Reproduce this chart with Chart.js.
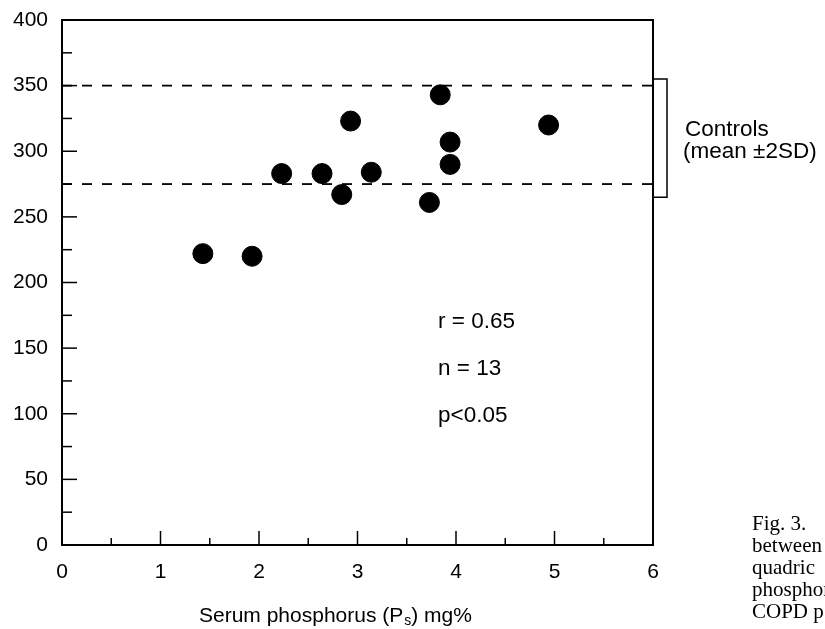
<!DOCTYPE html>
<html>
<head>
<meta charset="utf-8">
<script src="https://cdn.jsdelivr.net/npm/chart.js@4.4.0/dist/chart.umd.min.js"></script>
<style>
  html, body { margin: 0; padding: 0; background: #fff; overflow: hidden; }
  #wrap { position: relative; width: 825px; height: 629px; }
  #caption {
    position: absolute; left: 752px; top: 512px;
    font-family: "Liberation Serif", "Times New Roman", serif;
    font-size: 21px; line-height: 22px; color: #000;
    white-space: pre;
  }
</style>
</head>
<body>
<div id="wrap">
  <canvas id="scatterChart" width="825" height="629"></canvas>
  <div id="caption"></div>
</div>
<script>
// data
const phosphorus = [1.43, 1.93, 2.23, 2.64, 2.84, 2.93, 3.14, 3.73, 3.84, 3.94, 3.94, 4.94];
const muscleValue = [222, 220, 283, 283, 267, 323, 284, 261, 343, 307, 290, 320];

const controlLines = [350, 275];      // dashed lines (mean +/- 2SD)
const controlBracket = [265, 355];    // bracket on the right side
const controlLabel = ['Controls', '(mean \u00b12SD)'];
const statsText = ['r = 0.65', 'n = 13', 'p<0.05'];
const xTitleParts = ['Serum phosphorus (P', 's', ') mg%'];
const captionLines = ['Fig. 3.', 'between', 'quadric', 'phosphor', 'COPD p'];

const xRange = [0, 6];
const yRange = [0, 400];

document.getElementById('caption').textContent = captionLines.join('\n');

const FONT = '"Liberation Sans", Arial, Helvetica, sans-serif';

const points = phosphorus.map((x, i) => ({ x: x, y: muscleValue[i] }));

const lineSets = controlLines.map(v => ({
    type: 'line',
    data: [{ x: xRange[0], y: v }, { x: xRange[1], y: v }],
    borderColor: '#000',
    borderWidth: 1.8,
    borderDash: [10, 10],
    pointRadius: 0,
    fill: false
}));

const decorPlugin = {
    id: 'decor',
    afterDraw(chart) {
        const ctx = chart.ctx;
        const area = chart.chartArea;
        const xs = chart.scales.x;
        const ys = chart.scales.y;
        ctx.save();
        ctx.strokeStyle = '#000';
        ctx.fillStyle = '#000';
        ctx.lineWidth = 2;

        // top and right frame
        ctx.beginPath();
        ctx.moveTo(area.left, area.top);
        ctx.lineTo(area.right, area.top);
        ctx.lineTo(area.right, area.bottom);
        ctx.stroke();

        // inward ticks, y axis
        ctx.lineWidth = 1.5;
        for (let v = yRange[0] + 25; v < yRange[1]; v += 25) {
            const py = ys.getPixelForValue(v);
            const len = (v % 50 === 0) ? 15 : 10;
            ctx.beginPath();
            ctx.moveTo(area.left, py);
            ctx.lineTo(area.left + len, py);
            ctx.stroke();
        }
        // inward ticks, x axis
        for (let v = xRange[0] + 0.5; v < xRange[1]; v += 0.5) {
            const px = xs.getPixelForValue(v);
            const len = (v % 1 === 0) ? 14 : 7;
            ctx.beginPath();
            ctx.moveTo(px, area.bottom);
            ctx.lineTo(px, area.bottom - len);
            ctx.stroke();
        }

        // controls bracket
        const bTop = ys.getPixelForValue(controlBracket[1]);
        const bBot = ys.getPixelForValue(controlBracket[0]);
        ctx.beginPath();
        ctx.moveTo(area.right, bTop);
        ctx.lineTo(area.right + 14, bTop);
        ctx.lineTo(area.right + 14, bBot);
        ctx.lineTo(area.right, bBot);
        ctx.stroke();

        ctx.font = '22.5px ' + FONT;
        ctx.textBaseline = 'alphabetic';
        ctx.textAlign = 'left';
        ctx.fillText(controlLabel[0], area.right + 32, 136);
        ctx.fillText(controlLabel[1], area.right + 30, 158);

        // statistics
        statsText.forEach((t, i) => {
            ctx.fillText(t, 438, 328 + i * 47);
        });

        // x axis title with subscript
        ctx.font = '21px ' + FONT;
        let tx = 199;
        const ty = 622;
        ctx.fillText(xTitleParts[0], tx, ty);
        tx += ctx.measureText(xTitleParts[0]).width;
        ctx.font = '14px ' + FONT;
        ctx.fillText(xTitleParts[1], tx + 1, ty + 3);
        tx += ctx.measureText(xTitleParts[1]).width + 1;
        ctx.font = '21px ' + FONT;
        ctx.fillText(xTitleParts[2], tx, ty);

        ctx.restore();
    }
};

const ctx = document.getElementById('scatterChart').getContext('2d');
new Chart(ctx, {
    type: 'scatter',
    data: {
        datasets: [{
            label: 'patients',
            data: points,
            backgroundColor: '#000',
            borderColor: '#000',
            pointRadius: 10,
            pointHoverRadius: 10
        }, ...lineSets]
    },
    options: {
        responsive: false,
        animation: false,
        layout: {
            padding: { left: 0, top: 20, right: 172, bottom: 44 }
        },
        scales: {
            x: {
                type: 'linear',
                min: xRange[0],
                max: xRange[1],
                afterFit: scale => {
                    scale.height = 40;
                    scale.paddingLeft = 0;
                    scale.paddingRight = 0;
                },
                ticks: {
                    stepSize: 1,
                    color: '#000',
                    padding: 15,
                    font: { family: FONT, size: 21 }
                },
                grid: { display: false, drawTicks: false },
                border: { display: true, color: '#000', width: 2 }
            },
            y: {
                type: 'linear',
                min: yRange[0],
                max: yRange[1],
                afterFit: scale => {
                    scale.width = 62;
                    scale.paddingTop = 0;
                    scale.paddingBottom = 0;
                },
                ticks: {
                    stepSize: 50,
                    color: '#000',
                    padding: 14,
                    font: { family: FONT, size: 21 }
                },
                grid: { display: false, drawTicks: false },
                border: { display: true, color: '#000', width: 2 }
            }
        },
        plugins: {
            legend: { display: false },
            tooltip: { enabled: false }
        }
    },
    plugins: [decorPlugin]
});
</script>
</body>
</html>
